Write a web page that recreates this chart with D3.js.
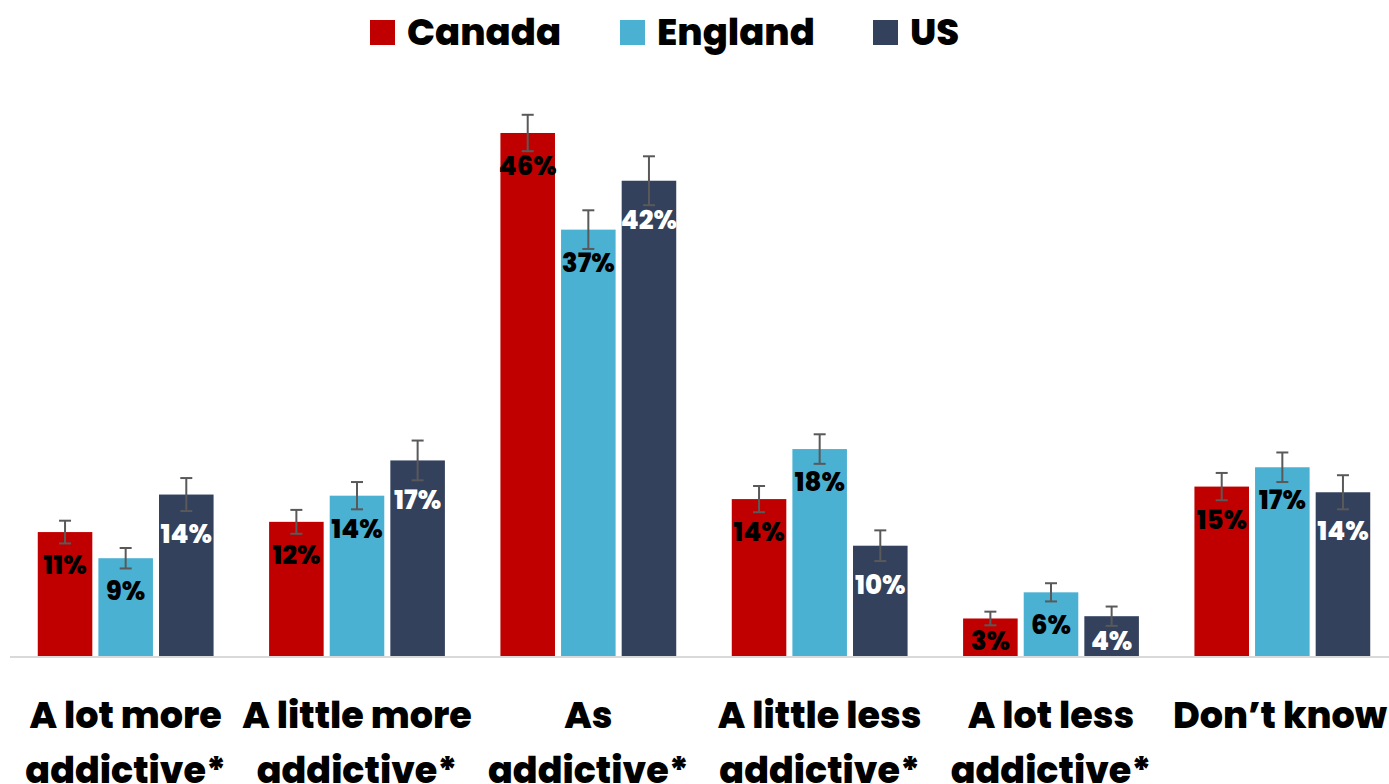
<!DOCTYPE html>
<html><head><meta charset="utf-8">
<script src="https://cdn.jsdelivr.net/npm/d3@7"></script>
<style>html,body{margin:0;padding:0;background:#fff;}svg{display:block;}</style>
</head><body>
<svg id="c" width="1389" height="784"></svg>
<script>
const categories = ["A lot more|addictive*", "A little more|addictive*", "As|addictive*", "A little less|addictive*", "A lot less|addictive*", "Don\u2019t know"];
const seriesNames = ["Canada", "England", "US"];
const canada = [10.9, 11.8, 46.0, 13.8, 3.3, 14.9];
const england = [8.6, 14.1, 37.5, 18.2, 5.6, 16.6];
const us = [14.2, 17.2, 41.8, 9.7, 3.5, 14.4];
const canadaErr = [1.0, 1.05, 1.6, 1.15, 0.6, 1.2];
const englandErr = [0.9, 1.2, 1.7, 1.3, 0.8, 1.3];
const usErr = [1.45, 1.75, 2.15, 1.35, 0.85, 1.5];
const canadaLabels = ["11%", "12%", "46%", "14%", "3%", "15%"];
const englandLabels = ["9%", "14%", "37%", "18%", "6%", "17%"];
const usLabels = ["14%", "17%", "42%", "10%", "4%", "14%"];

const colors = {Canada: "#C00000", England: "#4BB1D3", US: "#33415C"};
const labelColors = {Canada: "#000", England: "#000", US: "#fff"};
const labelOffset = {Canada: 33, England: 33, US: 39};
const FONT = "Poppins, Inter, 'Open Sans', sans-serif";

const series = [
  {name: "Canada", values: canada, err: canadaErr, labels: canadaLabels},
  {name: "England", values: england, err: englandErr, labels: englandLabels},
  {name: "US", values: us, err: usErr, labels: usLabels}
];

const svg = d3.select("#c");
const baseY = 656;
const y = d3.scaleLinear().domain([0, 50]).range([baseY, baseY - 50 * 11.37]);
const x0 = d3.scaleBand().domain(categories).range([10, 1398]).paddingInner(0.24).paddingOuter(0.12);
const x1 = d3.scaleBand().domain(seriesNames).range([0, x0.bandwidth()]).paddingInner(0.1);

// baseline
svg.append("line").attr("x1", 10).attr("x2", 1389).attr("y1", baseY + 1).attr("y2", baseY + 1)
  .attr("stroke", "#D9D9D9").attr("stroke-width", 2);

const g = svg.append("g");
series.forEach(s => {
  const gs = g.append("g");
  categories.forEach((c, i) => {
    const v = s.values[i];
    const bx = x0(c) + x1(s.name);
    const bw = x1.bandwidth();
    gs.append("rect").attr("x", bx).attr("y", y(v)).attr("width", bw).attr("height", y(0) - y(v))
      .attr("fill", colors[s.name]);
    let cy = y(v) + labelOffset[s.name];
    cy = Math.min(cy, baseY - 15);
    gs.append("text").attr("x", bx + bw / 2).attr("y", cy).attr("dy", "0.35em")
      .attr("text-anchor", "middle").attr("font-family", FONT).attr("font-weight", 800)
      .attr("font-size", 26).attr("fill", labelColors[s.name]).text(s.labels[i]);
    const cx = bx + bw / 2;
    const e = s.err[i];
    const eg = gs.append("g").attr("stroke", "#595959").attr("stroke-width", 2);
    eg.append("line").attr("x1", cx).attr("x2", cx).attr("y1", y(v + e)).attr("y2", y(v - e));
    eg.append("line").attr("x1", cx - 6).attr("x2", cx + 6).attr("y1", y(v + e)).attr("y2", y(v + e));
    eg.append("line").attr("x1", cx - 6).attr("x2", cx + 6).attr("y1", y(v - e)).attr("y2", y(v - e));
  });
});

// category labels
categories.forEach(c => {
  const lines = c.split("|");
  const t = svg.append("text").attr("text-anchor", "middle").attr("font-family", FONT)
    .attr("font-weight", 800).attr("font-size", 36.5).attr("fill", "#000");
  const cxl = Math.min(x0(c) + x0.bandwidth() / 2, 1280);
  lines.forEach((l, k) => {
    t.append("tspan").attr("x", cxl).attr("y", 728 + k * 55).text(l);
  });
});

// legend
const legendX = [370, 620, 873];
series.forEach((s, i) => {
  svg.append("rect").attr("x", legendX[i]).attr("y", 20).attr("width", 25).attr("height", 25).attr("fill", colors[s.name]);
  svg.append("text").attr("x", legendX[i] + 37).attr("y", 45).attr("font-family", FONT).attr("font-weight", 800)
    .attr("font-size", 37).attr("fill", "#000").text(s.name);
});
</script>
</body></html>
